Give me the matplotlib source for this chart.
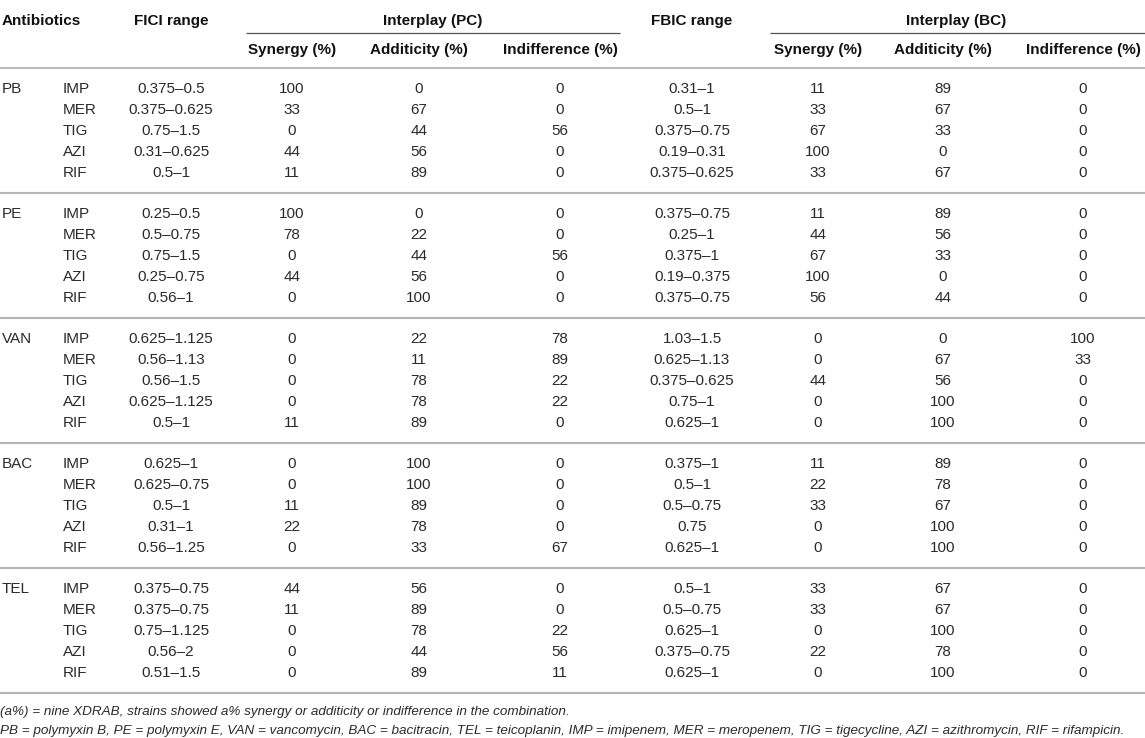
import matplotlib
matplotlib.use("Agg")
import matplotlib.pyplot as plt

# table data
groups = ["PB", "PE", "VAN", "BAC", "TEL"]
drugs = ["IMP", "MER", "TIG", "AZI", "RIF"]

fici = [
    ["0.375–0.5", "0.375–0.625", "0.75–1.5", "0.31–0.625", "0.5–1"],
    ["0.25–0.5", "0.5–0.75", "0.75–1.5", "0.25–0.75", "0.56–1"],
    ["0.625–1.125", "0.56–1.13", "0.56–1.5", "0.625–1.125", "0.5–1"],
    ["0.625–1", "0.625–0.75", "0.5–1", "0.31–1", "0.56–1.25"],
    ["0.375–0.75", "0.375–0.75", "0.75–1.125", "0.56–2", "0.51–1.5"],
]
pc_syn = [[100, 33, 0, 44, 11], [100, 78, 0, 44, 0], [0, 0, 0, 0, 11], [0, 0, 11, 22, 0], [44, 11, 0, 0, 0]]
pc_add = [[0, 67, 44, 56, 89], [0, 22, 44, 56, 100], [22, 11, 78, 78, 89], [100, 100, 89, 78, 33], [56, 89, 78, 44, 89]]
pc_ind = [[0, 0, 56, 0, 0], [0, 0, 56, 0, 0], [78, 89, 22, 22, 0], [0, 0, 0, 0, 67], [0, 0, 22, 56, 11]]

fbic = [
    ["0.31–1", "0.5–1", "0.375–0.75", "0.19–0.31", "0.375–0.625"],
    ["0.375–0.75", "0.25–1", "0.375–1", "0.19–0.375", "0.375–0.75"],
    ["1.03–1.5", "0.625–1.13", "0.375–0.625", "0.75–1", "0.625–1"],
    ["0.375–1", "0.5–1", "0.5–0.75", "0.75", "0.625–1"],
    ["0.5–1", "0.5–0.75", "0.625–1", "0.375–0.75", "0.625–1"],
]
bc_syn = [[11, 33, 67, 100, 33], [11, 44, 67, 100, 56], [0, 0, 44, 0, 0], [11, 22, 33, 0, 0], [33, 33, 0, 22, 0]]
bc_add = [[89, 67, 33, 0, 67], [89, 56, 33, 0, 44], [0, 67, 56, 100, 100], [89, 78, 67, 100, 100], [67, 67, 100, 78, 100]]
bc_ind = [[0, 0, 0, 0, 0], [0, 0, 0, 0, 0], [100, 33, 0, 0, 0], [0, 0, 0, 0, 0], [0, 0, 0, 0, 0]]

sub_heads = ["Synergy (%)", "Additicity (%)", "Indifference (%)"]
notes = [
    "(a%) = nine XDRAB, strains showed a% synergy or additicity or indifference in the combination.",
    "PB = polymyxin B, PE = polymyxin E, VAN = vancomycin, BAC = bacitracin, TEL = teicoplanin, "
    "IMP = imipenem, MER = meropenem, TIG = tigecycline, AZI = azithromycin, RIF = rifampicin.",
]

plt.rcParams["font.family"] = ["Liberation Sans", "DejaVu Sans"]

W, H = 1145, 738
fig = plt.figure(figsize=(W / 100, H / 100), dpi=100)
ax = fig.add_axes([0, 0, 1, 1])
ax.set_xlim(0, W)
ax.set_ylim(H, 0)
ax.axis("off")

fs = 11
body = "#2a2a2a"
head = "#111111"
grey = "#b4b4b4"

# column positions (pixels)
x_grp, x_drug = 2, 63
x_fici, x_fbic = 171, 692
x_pc = [292, 419, 560]
x_bc = [818, 943, 1083]

# header
y_h1, y_h2 = 21, 50
ax.text(x_grp, y_h1, "Antibiotics", fontsize=fs, fontweight="bold", color=head, va="center", ha="left")
ax.text(x_fici, y_h1, "FICI range", fontsize=fs, fontweight="bold", color=head, va="center", ha="center")
ax.text(x_fbic, y_h1, "FBIC range", fontsize=fs, fontweight="bold", color=head, va="center", ha="center")
ax.text(433, y_h1, "Interplay (PC)", fontsize=fs, fontweight="bold", color=head, va="center", ha="center")
ax.text(956, y_h1, "Interplay (BC)", fontsize=fs, fontweight="bold", color=head, va="center", ha="center")
ax.plot([246, 620], [33, 33], color="#555555", lw=0.9, solid_capstyle="butt")
ax.plot([770, W], [33, 33], color="#555555", lw=0.9, solid_capstyle="butt")
for xs in (x_pc, x_bc):
    for x, s in zip(xs, sub_heads):
        ax.text(x, y_h2, s, fontsize=fs, fontweight="bold", color=head, va="center", ha="center")
ax.plot([0, W], [68, 68], color=grey, lw=1.3)

# body rows
y0, sec_step, row_step = 89, 125, 21.0
for g in range(len(groups)):
    ys = y0 + g * sec_step
    ax.text(x_grp, ys, groups[g], fontsize=fs, color=body, va="center", ha="left")
    for r in range(len(drugs)):
        y = ys + r * row_step
        ax.text(x_drug, y, drugs[r], fontsize=fs, color=body, va="center", ha="left")
        ax.text(x_fici, y, fici[g][r], fontsize=fs, color=body, va="center", ha="center")
        ax.text(x_fbic, y, fbic[g][r], fontsize=fs, color=body, va="center", ha="center")
        for x, col in zip(x_pc, (pc_syn, pc_add, pc_ind)):
            ax.text(x, y, str(col[g][r]), fontsize=fs, color=body, va="center", ha="center")
        for x, col in zip(x_bc, (bc_syn, bc_add, bc_ind)):
            ax.text(x, y, str(col[g][r]), fontsize=fs, color=body, va="center", ha="center")
    ax.plot([0, W], [ys + 104, ys + 104], color=grey, lw=1.5)

# footnotes
ax.text(0, 712, notes[0], fontsize=9.7, style="italic", color=body, va="center", ha="left")
ax.text(0, 731, notes[1], fontsize=9.7, style="italic", color=body, va="center", ha="left")

fig.savefig("out.png", dpi=100)
